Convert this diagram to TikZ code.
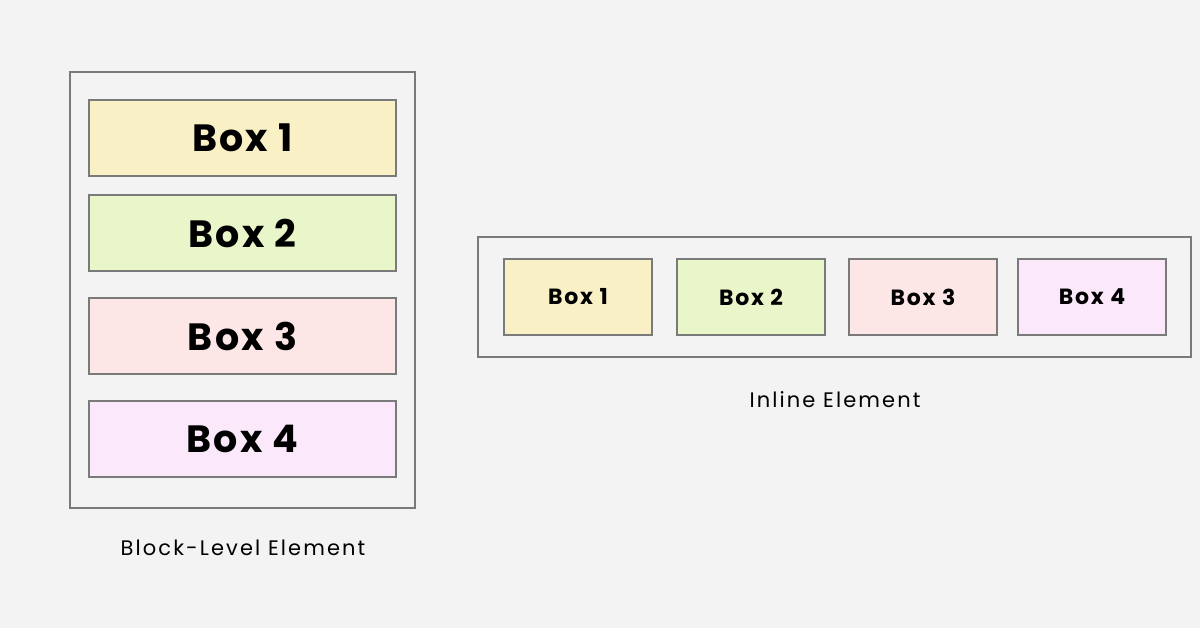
\documentclass[tikz,border=0pt]{standalone}
\usepackage{fontspec}
\setmainfont{Poppins}
\usetikzlibrary{positioning}
\definecolor{bgc}{HTML}{F3F3F3}
\definecolor{edgec}{HTML}{7A7A7A}
\definecolor{yel}{HTML}{FAF0C6}
\definecolor{grn}{HTML}{E9F6CA}
\definecolor{pnk}{HTML}{FCE6E6}
\definecolor{vio}{HTML}{FBE9FB}
\tikzset{
  frame/.style={draw=edgec, line width=1.2pt, fill=bgc},
  bigbox/.style={draw=edgec, line width=1.2pt, minimum width=307pt, minimum height=76pt, font=\fontsize{38}{44}\selectfont\bfseries\addfontfeature{LetterSpace=6}},
  smallbox/.style={draw=edgec, line width=1.2pt, minimum width=148pt, minimum height=76pt, font=\fontsize{22}{26}\selectfont\bfseries\addfontfeature{LetterSpace=8}},
  caption/.style={font=\fontsize{21}{25}\selectfont\addfontfeature{LetterSpace=10}}
}
\begin{document}
\begin{tikzpicture}[x=1pt,y=-1pt]
    % Background
    \fill[bgc] (0,0) rectangle (1200,628);
    \useasboundingbox (0,0) rectangle (1200,628);
    % Block-level frame
    \draw[frame] (70,72) rectangle (415,508);
    \node[bigbox, fill=yel] (b1) at (242.5,138) {Box 1};
    \node[bigbox, fill=grn] (b2) at (242.5,233) {Box 2};
    \node[bigbox, fill=pnk] (b3) at (242.5,336) {Box 3};
    \node[bigbox, fill=vio] (b4) at (242.5,439) {Box 4};
    \node[caption] (blabel) at (243,548) {Block-Level Element};
    % Inline frame
    \draw[frame] (478,237) rectangle (1191,357);
    \node[smallbox, fill=yel] (i1) at (578,297) {Box 1};
    \node[smallbox, fill=grn] (i2) at (751,297) {Box 2};
    \node[smallbox, fill=pnk] (i3) at (923,297) {Box 3};
    \node[smallbox, fill=vio] (i4) at (1092,297) {Box 4};
    \node[caption] (ilabel) at (835,400) {Inline Element};
\end{tikzpicture}
\end{document}
